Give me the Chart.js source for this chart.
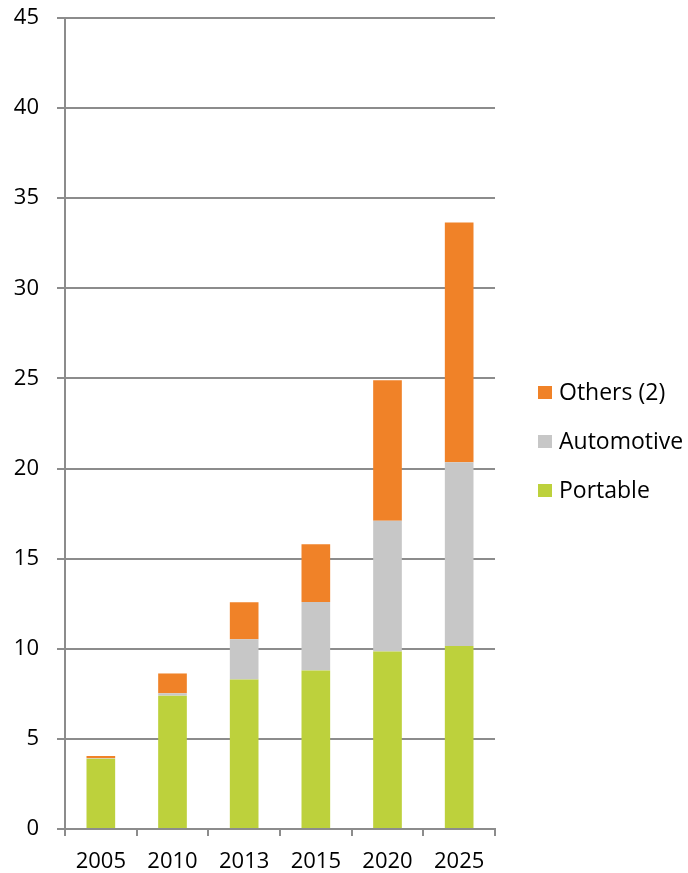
<!DOCTYPE html>
<html>
<head>
<meta charset="utf-8">
<script src="https://cdn.jsdelivr.net/npm/chart.js@4.4.0/dist/chart.umd.min.js"></script>
<style>
  html, body { margin: 0; padding: 0; background: #fff; }
  #wrap { width: 688px; height: 873px; }
</style>
</head>
<body>
<div id="wrap"><canvas id="myChart" width="688" height="873"></canvas></div>
<script>
// dados
const years = ['2005', '2010', '2013', '2015', '2020', '2025'];
const portable = [3.9, 7.4, 8.3, 8.8, 9.85, 10.15];
const automotive = [0.03, 0.13, 2.23, 3.8, 7.25, 10.2];
const others = [0.12, 1.1, 2.05, 3.2, 7.8, 13.3];
const yTicks = [0, 5, 10, 15, 20, 25, 30, 35, 40, 45];

const gridColor = '#8c8c8c';
const fontFam = "'Open Sans', sans-serif";

// legenda desenhada a mao, do lado direito
const sideLegend = {
    id: 'sideLegend',
    afterDraw(chart) {
        const ctx = chart.ctx;
        const items = chart.data.datasets.slice().reverse();
        const x0 = 538;
        const y0 = 393;
        const gap = 49;
        ctx.save();
        ctx.font = "23px " + fontFam;
        ctx.textBaseline = 'middle';
        ctx.textAlign = 'left';
        items.forEach(function (ds, i) {
            const y = y0 + i * gap;
            ctx.fillStyle = ds.backgroundColor;
            ctx.fillRect(x0, y - 7, 14, 13);
            ctx.fillStyle = '#000';
            ctx.fillText(ds.label, x0 + 21, y);
        });
        ctx.restore();
    }
};

const Grafico = document.getElementById('myChart');
new Chart(Grafico, {
    type: 'bar',
    data: {
        labels: years,
        datasets: [
            { label: 'Portable', data: portable, backgroundColor: '#bdd13c' },
            { label: 'Automotive', data: automotive, backgroundColor: '#c7c7c7' },
            { label: 'Others (2)', data: others, backgroundColor: '#f08228' }
        ]
    },
    options: {
        responsive: false,
        animation: false,
        layout: { padding: { top: 18, right: 193, left: 0, bottom: 0 } },
        datasets: { bar: { categoryPercentage: 1, barPercentage: 0.4, borderWidth: 0 } },
        plugins: { legend: { display: false }, tooltip: { enabled: false } },
        scales: {
            x: {
                stacked: true,
                afterFit(s) { s.height = 44; s.paddingLeft = 0; s.paddingRight = 0; },
                grid: { offset: true, drawOnChartArea: false, drawTicks: true, tickLength: 7, color: gridColor, lineWidth: 2 },
                border: { display: true, color: gridColor, width: 2 },
                ticks: { color: '#000', font: { family: fontFam, size: 22 }, padding: 13, maxRotation: 0 }
            },
            y: {
                stacked: true,
                min: 0,
                max: 45,
                afterFit(s) { s.width = 65; s.paddingTop = 0; s.paddingBottom = 0; },
                afterBuildTicks(s) { s.ticks = yTicks.map(v => ({ value: v })); },
                grid: { color: gridColor, lineWidth: 2, tickLength: 8 },
                border: { display: true, color: gridColor, width: 2 },
                ticks: { color: '#000', font: { family: fontFam, size: 22 }, padding: 18 }
            }
        }
    },
    plugins: [sideLegend]
});
</script>
</body>
</html>
